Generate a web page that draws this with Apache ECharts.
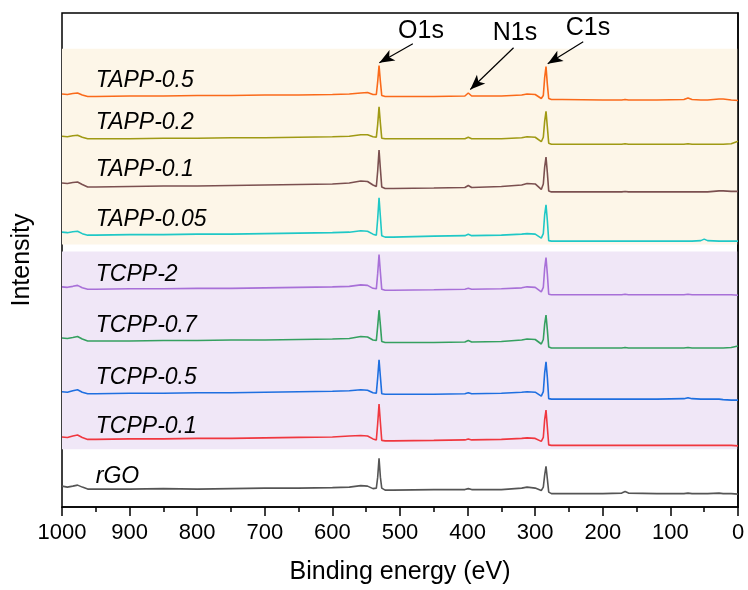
<!DOCTYPE html>
<html>
<head>
    <meta charset="utf-8">
    <title>XPS survey spectra</title>
    <script src="https://cdn.jsdelivr.net/npm/echarts@6/dist/echarts.min.js"></script>
</head>
<style>
    body { margin: 0; background: #fff; }
    #main { width: 748px; height: 590px; }
</style>
<body>
<div id="main"></div>
<script type="text/javascript">
    // binding energy (eV), shared by all spectra
    var be = [1000, 992, 984, 977, 970, 962, 950,
              900, 850, 800, 750, 700, 650, 600, 575,
              558, 548, 540, 535, 533, 531, 529, 527, 522, 510,
              450, 404, 399, 394, 350, 320, 312, 300,
              291, 288, 286, 284, 282, 280, 276, 260,
              200, 172, 167, 162,
              120, 80, 74, 68, 55, 50, 45, 28, 22, 10, 0];

    // stacked intensities (a.u., already offset)
    var rGO = [21, 20, 21, 22, 20, 18, 18,
               18, 18.5, 18, 18.5, 19, 19, 19.5, 20,
               21.5, 21, 18.5, 19, 30, 49, 30, 19, 17, 17,
               17.5, 17.5, 18.5, 17.5, 17.5, 19, 20, 19,
               16.5, 20, 32, 41, 28, 15, 13.5, 13.5,
               13.5, 14, 15.5, 14,
               13.5, 13.5, 14, 13.5, 13.5, 13.5, 13.5, 14, 13.5, 13.5, 13];
    var tcpp01 = [70.5, 70, 71.5, 72.5, 70, 68, 68,
                  68.5, 68.5, 69, 69, 69.5, 70, 70.5, 71.5,
                  72, 71.5, 68.5, 67.5, 84, 103.5, 85, 67, 66.5, 66.5,
                  67, 67.5, 68.5, 67.5, 68, 69, 69.5, 69,
                  66, 70, 88, 97.5, 80, 62.5, 62, 62,
                  62, 62, 62, 62,
                  62, 62, 62, 62, 62, 62, 62, 62, 62, 62, 61.5];
    var tcpp05 = [116, 115.5, 117, 118, 115.5, 114, 114,
                  114.5, 114.5, 115, 115, 115.5, 116, 116.5, 117,
                  118, 117.5, 115, 114.5, 130, 148, 131, 114, 113.5, 113.5,
                  113.5, 114, 115, 114, 114.5, 115.5, 116, 115.5,
                  111.5, 116, 135, 146, 130, 109, 108.5, 108.5,
                  108.5, 108.5, 108.5, 108.5,
                  108.5, 109, 110, 109, 108.5, 108.5, 108.5, 108.5, 108, 107.5, 107.5];
    var tcpp07 = [170, 169.5, 170.5, 171.5, 169, 167, 167,
                  167, 167.5, 167.5, 168, 168, 168.5, 169, 169.5,
                  171.5, 171, 168, 167.5, 182, 198, 183, 166.5, 165.5, 165.5,
                  165.5, 166, 167.5, 166, 166.5, 168, 169, 168.5,
                  164, 168.5, 184, 193, 178, 161, 160, 160,
                  160, 160, 160.5, 160,
                  160, 160, 160.5, 160, 160, 160, 160, 160, 160, 160.5, 162];
    var tcpp2 = [221.5, 221, 222, 223, 220.5, 219, 219,
                 219.5, 219.5, 220, 220, 220.5, 221, 221.5, 222,
                 223.5, 223, 220, 219.5, 235, 254, 236, 219, 218, 218,
                 218.5, 219, 220, 219, 219.5, 220.5, 221.5, 221,
                 216.5, 221, 240, 251, 234, 214, 213.5, 213.5,
                 213.5, 213.5, 214, 213.5,
                 213.5, 213.5, 214, 213.5, 213.5, 213.5, 213.5, 213.5, 213.5, 213.5, 213];
    var tapp005 = [276.5, 276, 277, 277.5, 275, 273.5, 273.5,
                   274, 274, 274.5, 274.5, 275, 275.5, 276, 276.5,
                   278, 277.5, 274.5, 273.5, 290, 311, 292, 273, 271.5, 271.5,
                   272.5, 273, 274.5, 273, 273.5, 274.5, 275, 274.5,
                   270.5, 275, 294, 304, 288, 268, 267.5, 267.5,
                   267.5, 267.5, 267.5, 267.5,
                   267.5, 267.5, 267.5, 267.5, 268, 269.5, 268, 267.5, 267.5, 267.5, 267.5];
    var tapp01 = [326, 325.5, 326.5, 327, 324.5, 322, 322,
                  322.5, 323, 323, 323.5, 324, 324.5, 325, 326,
                  328, 327.5, 324, 322.5, 338, 359, 340, 322, 320.5, 320.5,
                  321, 321.5, 323.5, 321.5, 322.5, 324, 325.5, 325,
                  319.5, 325, 342, 352, 336, 318, 317, 317,
                  317, 317, 317.5, 317,
                  317, 317, 317, 317, 317, 317, 317, 318, 318, 317.5, 317.5];
    var tapp02 = [373, 372.5, 373.5, 374, 372, 370.5, 370.5,
                  370.5, 371, 371, 371.5, 371.5, 372, 372.5, 373,
                  374.5, 374.5, 372.5, 372, 385, 402.5, 386, 371, 370.5, 370.5,
                  370.5, 370.5, 372, 370.5, 370.5, 371.5, 372.5, 372,
                  367.5, 372, 388, 398, 382, 366, 365, 365,
                  365, 365, 365.5, 365,
                  365, 365, 365.5, 365, 365, 365, 365, 365, 365, 365.5, 368];
    var tapp05 = [415.5, 415, 416, 416.5, 414.5, 413, 413,
                  413.5, 413.5, 414, 414, 414.5, 414.5, 415, 415.5,
                  416.5, 417, 415, 415, 428, 444, 428, 414, 413, 413,
                  413, 413.5, 416.5, 413.5, 413.5, 414.5, 415.5, 415,
                  411, 414, 432, 443, 425, 411, 410, 410,
                  409.5, 409.5, 410, 409.5,
                  409.5, 410, 411.5, 410, 409.5, 409.5, 409.5, 410.5, 410.5, 409.5, 409];

    var names = ['rGO', 'TCPP-0.1', 'TCPP-0.5', 'TCPP-0.7', 'TCPP-2',
                 'TAPP-0.05', 'TAPP-0.1', 'TAPP-0.2', 'TAPP-0.5'];
    var spectra = [rGO, tcpp01, tcpp05, tcpp07, tcpp2, tapp005, tapp01, tapp02, tapp05];

    // peak annotations
    var peakNames = ['O1s', 'N1s', 'C1s'];
    var peakText = [[469, 479], [330, 477], [222, 482]];
    var arrowFrom = [[481, 466], [332, 462], [229, 468]];
    var arrowTo = [[530.5, 447], [396, 420], [281.5, 446]];

    // shaded groups (y ranges in the same a.u.)
    var bandTAPP = [264, 461];
    var bandTCPP = [58, 257];

    var colors = ['#555555', '#f0373f', '#1e6fe0', '#35a060', '#a870d8',
                  '#1fc8c6', '#7b5050', '#a09a14', '#fa6a1a'];
    var labelDy = [10, 10.5, 14, 12, 12.5, 13, 13.3, 13.7, 13.8];
    var font = 'Arial, "Liberation Sans", sans-serif';

    var myChart = echarts.init(document.getElementById('main'));

    var series = [];
    for (var i = 0; i < names.length; i++) {
        var pts = [];
        for (var j = 0; j < be.length; j++) {
            pts.push([be[j], spectra[i][j]]);
        }
        series.push({
            name: names[i],
            type: 'line',
            data: pts,
            showSymbol: false,
            smooth: false,
            lineStyle: { color: colors[i], width: 1.6 },
            itemStyle: { color: colors[i] },
            z: 3,
            markPoint: {
                symbol: 'circle',
                symbolSize: 0,
                silent: true,
                label: {
                    show: true,
                    position: 'right',
                    distance: 0,
                    formatter: names[i],
                    color: '#000',
                    fontSize: 23,
                    fontStyle: 'italic',
                    fontFamily: font
                },
                data: [{ coord: [950, spectra[i][0] + labelDy[i]] }]
            }
        });
    }

    // background bands go on the rGO series
    series[0].markArea = {
        silent: true,
        z: 0,
        data: [
            [{ xAxis: 1000, yAxis: bandTAPP[1], itemStyle: { color: '#fdf6e8' } },
             { xAxis: 0, yAxis: bandTAPP[0] }],
            [{ xAxis: 1000, yAxis: bandTCPP[1], itemStyle: { color: '#f0e7f7' } },
             { xAxis: 0, yAxis: bandTCPP[0] }]
        ]
    };

    // arrows + peak names on top
    var arrowData = [];
    var textData = [];
    for (var k = 0; k < peakNames.length; k++) {
        arrowData.push([
            { coord: arrowFrom[k], symbol: 'none' },
            { coord: arrowTo[k], symbol: 'arrow', symbolSize: [9, 15] }
        ]);
        textData.push({ coord: peakText[k], value: peakNames[k] });
    }
    series.push({
        name: 'peaks',
        type: 'line',
        data: [],
        z: 4,
        markLine: {
            silent: true,
            symbol: ['none', 'arrow'],
            label: { show: false },
            lineStyle: { color: '#000', width: 1.2, type: 'solid' },
            data: arrowData
        },
        markPoint: {
            symbol: 'circle',
            symbolSize: 0,
            silent: true,
            label: {
                show: true,
                position: 'inside',
                formatter: '{c}',
                color: '#000',
                fontSize: 25,
                fontFamily: font
            },
            data: textData
        }
    });

    var option = {
        animation: false,
        backgroundColor: '#fff',
        grid: {
            left: 62, right: 10, top: 13, bottom: 80,
            show: true,
            borderColor: '#000',
            borderWidth: 1.5,
            backgroundColor: 'transparent'
        },
        xAxis: {
            type: 'value',
            min: 0,
            max: 1000,
            interval: 100,
            inverse: true,
            name: 'Binding energy (eV)',
            nameLocation: 'middle',
            nameGap: 53,
            nameTextStyle: { fontSize: 25, color: '#000', fontFamily: font },
            axisLine: { show: true, lineStyle: { color: '#000', width: 1.5 } },
            axisTick: { show: true, inside: false, length: 9, lineStyle: { color: '#000', width: 1.5 } },
            minorTick: { show: true, splitNumber: 2, length: 5, lineStyle: { color: '#000', width: 1.5 } },
            splitLine: { show: false },
            axisLabel: {
                fontSize: 22, color: '#000', fontFamily: font, margin: 15,
                formatter: function (v) { return String(v); }
            }
        },
        yAxis: {
            type: 'value',
            min: 0,
            max: 497,
            name: 'Intensity',
            nameLocation: 'middle',
            nameGap: 27,
            nameTextStyle: { fontSize: 25, color: '#000', fontFamily: font },
            axisLine: { show: true, lineStyle: { color: '#000', width: 1.5 } },
            axisTick: { show: false },
            axisLabel: { show: false },
            splitLine: { show: false }
        },
        series: series
    };

    myChart.setOption(option);
</script>
</body>
</html>
